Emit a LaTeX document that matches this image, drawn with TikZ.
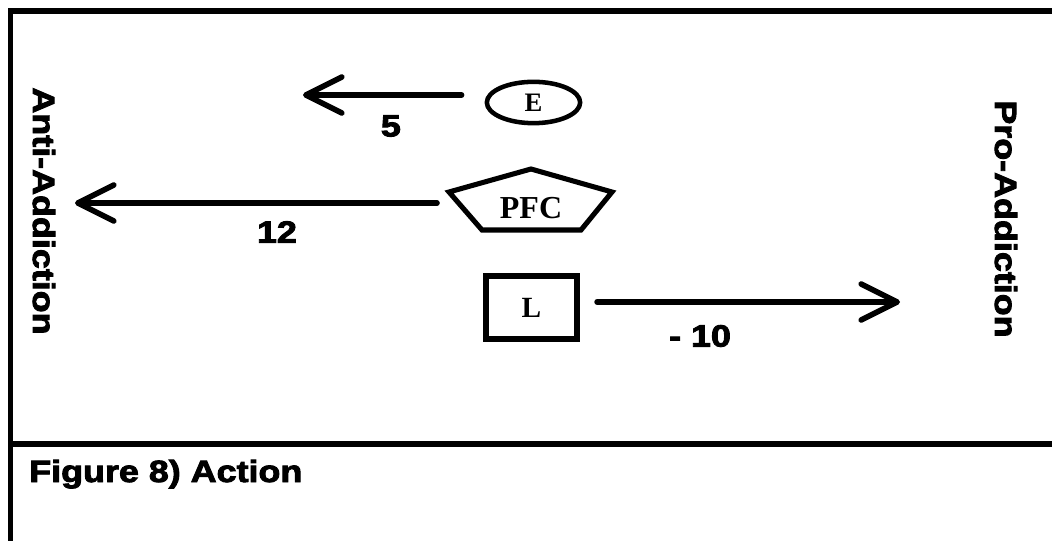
\documentclass[tikz,border=0pt]{standalone}
\usepackage{fontspec}
\setmainfont{Liberation Serif}
\newfontfamily\blk{Liberation Sans Bold}[FakeBold=3,FakeStretch=1.17]
\usetikzlibrary{arrows.meta,shapes.geometric}
\begin{document}
\begin{tikzpicture}[x=0.75pt,y=-0.75pt,
  frame/.style={line width=4.2pt, line join=miter},
  conn/.style={line width=4.2pt, line cap=round, -{Straight Barb[length=27pt,width=27pt,round]}},
  side/.style={font=\blk\fontsize{23}{23}\selectfont, rotate=-90, anchor=base, inner sep=0pt},
  num/.style={font=\blk\fontsize{23}{23}\selectfont, inner sep=0pt},
  nodetext/.style={inner sep=0pt}
]
\useasboundingbox (0,0) rectangle (1052,541);
% frame
\coordinate (tl) at (10.5,11);
\coordinate (tr) at (1052,11);
\coordinate (bl) at (10.5,545);
\coordinate (ml) at (10.5,444);
\coordinate (mr) at (1052,444);
\draw[frame] (tr) -- (tl) -- (bl);
\draw[frame] (ml) -- (mr);
% E
\node[ellipse, draw, line width=3.4pt, minimum width=70pt, minimum height=31pt, nodetext,
      font=\bfseries\fontsize{20}{20}\selectfont] (e) at (533.5,102.5) {E};
% PFC pentagon
\coordinate (pa) at (531,169);
\coordinate (pr) at (612,192);
\coordinate (pbr) at (581,230);
\coordinate (pbl) at (482,230);
\coordinate (pl) at (449,192);
\draw[line width=3.8pt, line join=miter] (pa) -- (pr) -- (pbr) -- (pbl) -- (pl) -- cycle;
\node[nodetext, font=\bfseries\fontsize{24}{24}\selectfont] (pfc) at (531,208.5) {PFC};
% L box
\node[draw, line width=4.6pt, minimum width=68.25pt, minimum height=47.25pt, nodetext,
      font=\bfseries\fontsize{22}{22}\selectfont] (l) at (531.5,307.5) {L};
% arrow tips
\coordinate (etip) at (303,95);
\coordinate (ptip) at (75,203);
\coordinate (ltip) at (900,302);
\draw[conn, shorten <=17.25pt] (etip -| e.west) -- node[num, pos=0.516, yshift=-23.25pt] (n5) {5} (etip);
\draw[conn, shorten <=9pt] (ptip -| pl) -- node[num, pos=0.46, yshift=-21.75pt] (n12) {12} (ptip);
\draw[conn, shorten <=12.75pt] (ltip -| l.east) -- node[num, pos=0.375, yshift=-25.5pt] (n10) {- 10} (ltip);
% side labels
\node[side] (anti) at (33,211) {Anti-Addiction};
\node[side] (pro) at (995,219) {Pro-Addiction};
% caption
\node[num, anchor=base west] (cap) at (29,482) {Figure 8) Action};
\end{tikzpicture}
\end{document}
